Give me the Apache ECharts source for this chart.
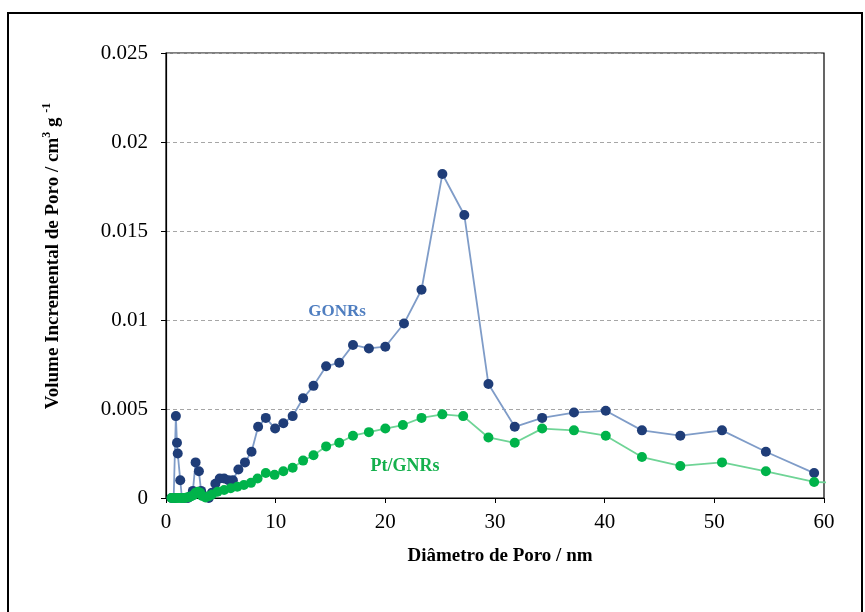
<!DOCTYPE html>
<html>
<head>
<meta charset="utf-8">
<script src="https://cdn.jsdelivr.net/npm/echarts@6/dist/echarts.min.js"></script>
<style>
  html, body { margin: 0; padding: 0; background: #fff; }
  #chart { width: 865px; height: 612px; }
</style>
</head>
<body>
<div id="chart"></div>
<script>
// Pore diameter (nm) vs incremental pore volume (cm3/g)
var gonrsDiameter = [0.5, 0.7, 0.85, 0.9, 1.0, 1.07, 1.3, 1.45, 1.7, 2.0, 2.2, 2.45, 2.7, 3.0, 3.2, 3.5, 3.9, 4.2, 4.5, 4.9, 5.3, 5.7, 6.1, 6.6, 7.2, 7.8, 8.4, 9.1, 9.95, 10.7, 11.55, 12.5, 13.45, 14.6, 15.8, 17.05, 18.5, 20.0, 21.7, 23.3, 25.2, 27.2, 29.4, 31.8, 34.3, 37.2, 40.1, 43.4, 46.9, 50.7, 54.7, 59.1];
var gonrsVolume = [0, 0, 0, 0.0046, 0.0031, 0.0025, 0.001, 0, 0, 0, 0.0001, 0.0004, 0.002, 0.0015, 0.0004, 0.0001, 0, 0.0003, 0.0008, 0.0011, 0.0011, 0.001, 0.001, 0.0016, 0.002, 0.0026, 0.004, 0.0045, 0.0039, 0.0042, 0.0046, 0.0056, 0.0063, 0.0074, 0.0076, 0.0086, 0.0084, 0.0085, 0.0098, 0.0117, 0.0182, 0.0159, 0.0064, 0.0040, 0.0045, 0.0048, 0.0049, 0.0038, 0.0035, 0.0038, 0.0026, 0.0014];

var ptDiameter = [0.5, 0.7, 0.9, 1.1, 1.3, 1.5, 1.7, 1.9, 2.1, 2.3, 2.5, 2.7, 2.9, 3.1, 3.3, 3.6, 3.9, 4.2, 4.7, 5.3, 5.9, 6.5, 7.1, 7.75, 8.35, 9.1, 9.9, 10.7, 11.55, 12.5, 13.45, 14.6, 15.8, 17.05, 18.5, 20.0, 21.6, 23.3, 25.2, 27.1, 29.4, 31.8, 34.3, 37.2, 40.1, 43.4, 46.9, 50.7, 54.7, 59.1, 61.5];
var ptVolume = [0, 0, 0, 0, 0, 0, 0, 0.00003, 0.00005, 0.0001, 0.00015, 0.0003, 0.00035, 0.0003, 0.00012, 0.00003, 0.0001, 0.0002, 0.00035, 0.00045, 0.00055, 0.00063, 0.00073, 0.00085, 0.0011, 0.0014, 0.0013, 0.0015, 0.0017, 0.0021, 0.0024, 0.0029, 0.0031, 0.0035, 0.0037, 0.0039, 0.0041, 0.0045, 0.0047, 0.0046, 0.0034, 0.0031, 0.0039, 0.0038, 0.0035, 0.0023, 0.0018, 0.0020, 0.0015, 0.0009, 0.00085];

var xTicks = { min: 0, max: 60, step: 10 };
var yTicks = { min: 0, max: 0.025, step: 0.005 };

function pairs(xs, ys) {
  return xs.map(function (x, i) { return [x, ys[i]]; });
}

var serif = '"Liberation Serif", "DejaVu Serif", serif';

var chart = echarts.init(document.getElementById('chart'), null, { renderer: 'canvas' });

chart.setOption({
  animation: false,
  backgroundColor: '#ffffff',
  grid: {
    left: 166, right: 41, top: 53, bottom: 114,
    show: true, borderColor: '#000', borderWidth: 1.2, backgroundColor: 'transparent'
  },
  xAxis: {
    type: 'value',
    min: xTicks.min, max: xTicks.max, interval: xTicks.step,
    axisLine: { show: true, lineStyle: { color: '#000', width: 1.2 } },
    axisTick: { show: true, inside: false, length: 5, lineStyle: { color: '#000' } },
    axisLabel: { color: '#000', fontFamily: serif, fontSize: 21, margin: 14 },
    splitLine: { show: false }
  },
  yAxis: {
    type: 'value',
    min: yTicks.min, max: yTicks.max, interval: yTicks.step,
    axisLine: { show: true, lineStyle: { color: '#000', width: 1.2 } },
    axisTick: { show: true, inside: false, length: 5, lineStyle: { color: '#000' } },
    axisLabel: { color: '#000', fontFamily: serif, fontSize: 21, margin: 18 },
    splitLine: { show: true, lineStyle: { color: '#a6a6a6', type: [4, 3], width: 1 } }
  },
  series: [
    {
      name: 'GONRs',
      type: 'line',
      data: pairs(gonrsDiameter, gonrsVolume),
      symbol: 'circle',
      symbolSize: 10,
      clip: true,
      lineStyle: { color: '#7f9cc8', width: 1.8 },
      itemStyle: { color: '#1f3d78', borderWidth: 0 },
      z: 3
    },
    {
      name: 'Pt/GNRs',
      type: 'line',
      data: pairs(ptDiameter, ptVolume),
      symbol: 'circle',
      symbolSize: 10,
      clip: true,
      lineStyle: { color: '#6fd496', width: 1.8 },
      itemStyle: { color: '#00b34a', borderWidth: 0 },
      z: 4
    }
  ],
  graphic: [
    {
      type: 'rect', silent: true,
      shape: { x: 8, y: 13, width: 854, height: 620 },
      style: { fill: 'none', stroke: '#000', lineWidth: 2 },
      z: -1
    },
    {
      type: 'text', silent: true, x: 337, y: 312,
      style: {
        text: 'GONRs', fill: '#4f7ec0', font: 'bold 17px ' + serif,
        align: 'center', verticalAlign: 'middle'
      }
    },
    {
      type: 'text', silent: true, x: 405, y: 466,
      style: {
        text: 'Pt/GNRs', fill: '#14b04c', font: 'bold 18px ' + serif,
        align: 'center', verticalAlign: 'middle'
      }
    },
    {
      type: 'text', silent: true, x: 500, y: 556,
      style: {
        text: 'Diâmetro de Poro / nm', fill: '#000', font: 'bold 19px ' + serif,
        align: 'center', verticalAlign: 'middle'
      }
    },
    {
      type: 'text', silent: true, x: 53, y: 256, rotation: Math.PI / 2,
      style: {
        text: 'Volume Incremental de Poro / cm{sup|3} g {sup|-1}',
        fill: '#000', font: 'bold 19px ' + serif,
        align: 'center', verticalAlign: 'middle',
        rich: {
          sup: { fontSize: 12, fontWeight: 'bold', fontFamily: serif, fill: '#000', verticalAlign: 'top', lineHeight: 24 }
        }
      }
    }
  ]
});
</script>
</body>
</html>
